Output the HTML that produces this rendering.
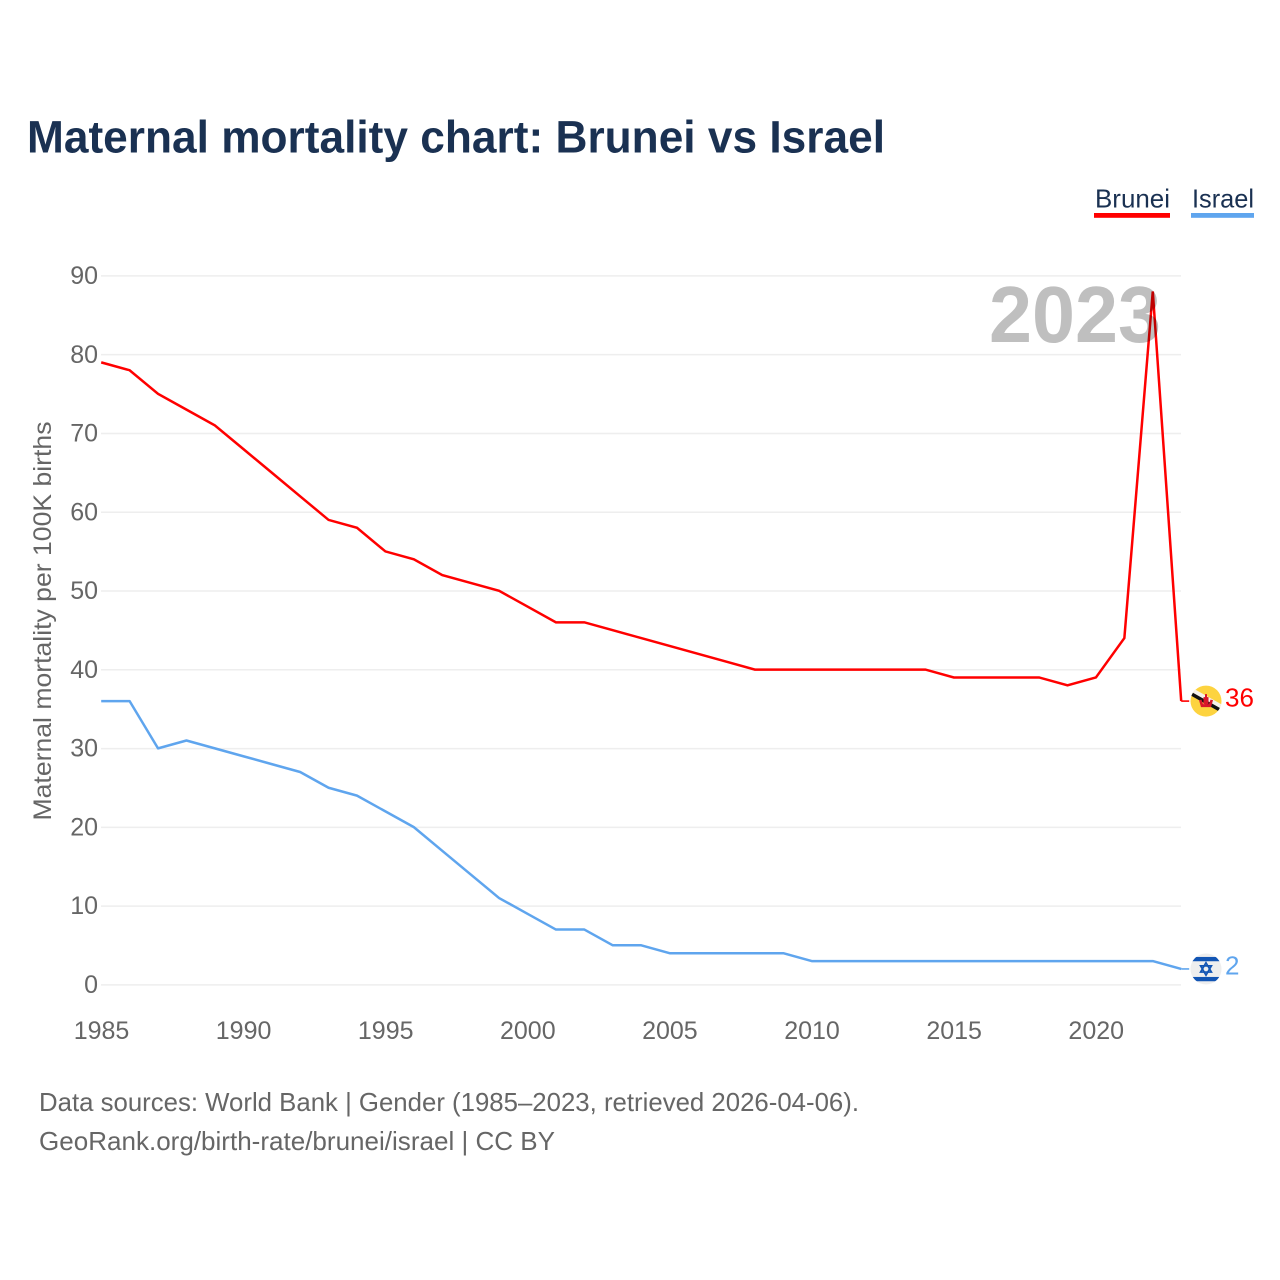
<!DOCTYPE html>
<html lang="en">
<head>
<meta charset="utf-8">
<title>Maternal mortality chart: Brunei vs Israel</title>
<style>
  html, body { margin: 0; padding: 0; background: #fff; }
  svg { display: block; font-family: "Liberation Sans", sans-serif; }
</style>
</head>
<body>
<svg id="chart" width="1280" height="1280" viewBox="0 0 1280 1280" xmlns="http://www.w3.org/2000/svg">
  <defs>
    <clipPath id="brunei-clip"><circle cx="0" cy="0" r="15.5"></circle></clipPath>
    <clipPath id="israel-clip"><circle cx="0" cy="0" r="15.5"></circle></clipPath>
  </defs>
  <rect width="1280" height="1280" fill="#fff"></rect>
  <text x="27" y="152.5" font-size="45" font-weight="700" fill="#1a3152" textLength="858" lengthAdjust="spacingAndGlyphs">Maternal mortality chart: Brunei vs Israel</text>

  <g>
    <g>
      <text x="1095" y="207.5" font-size="26" fill="#1a3152" textLength="75" lengthAdjust="spacingAndGlyphs">Brunei</text>
      <rect x="1094" y="213" width="76" height="4.8" fill="#ff0000"></rect>
    </g>
    <g>
      <text x="1192" y="207.5" font-size="26" fill="#1a3152" textLength="62" lengthAdjust="spacingAndGlyphs">Israel</text>
      <rect x="1191" y="213" width="63" height="4.8" fill="#5fa5ee"></rect>
    </g>
  </g>

  <g id="grid"></g>
  <g id="y-ticks"></g>
  <g id="x-ticks"></g>
  <text transform="translate(51,820.5) rotate(-90)" x="0" y="0" font-size="25" fill="#666" textLength="399" lengthAdjust="spacingAndGlyphs">Maternal mortality per 100K births</text>

  <g id="series"></g>
  <g id="end-labels"></g>

  <text x="989" y="342" font-size="80" font-weight="700" fill="#000" fill-opacity="0.25" textLength="172" lengthAdjust="spacingAndGlyphs">2023</text>

  <text x="39" y="1111" font-size="26" fill="#666" textLength="820" lengthAdjust="spacingAndGlyphs">Data sources: World Bank | Gender (1985–2023, retrieved 2026-04-06).</text>
  <text x="39" y="1150" font-size="26" fill="#666" textLength="516" lengthAdjust="spacingAndGlyphs">GeoRank.org/birth-rate/brunei/israel | CC BY</text>
</svg>

<script>
const years = [1985,1986,1987,1988,1989,1990,1991,1992,1993,1994,1995,1996,1997,1998,1999,2000,2001,2002,2003,2004,2005,2006,2007,2008,2009,2010,2011,2012,2013,2014,2015,2016,2017,2018,2019,2020,2021,2022,2023];
const bruneiValues = [79,78,75,73,71,68,65,62,59,58,55,54,52,51,50,48,46,46,45,44,43,42,41,40,40,40,40,40,40,40,39,39,39,39,38,39,44,88,36];
const israelValues = [36,36,30,31,30,29,28,27,25,24,22,20,17,14,11,9,7,7,5,5,4,4,4,4,4,3,3,3,3,3,3,3,3,3,3,3,3,3,2];
const yTickValues = [0,10,20,30,40,50,60,70,80,90];
const xTickValues = [1985,1990,1995,2000,2005,2010,2015,2020];

const NS = 'http://www.w3.org/2000/svg';
const xScale = function (year) { return 101.2 + (year - 1985) * (1080 / 38); };
const yScale = function (value) { return 984.7 - value * (709 / 90); };

function make(tag, attrs, parent) {
  const el = document.createElementNS(NS, tag);
  Object.keys(attrs).forEach(function (k) { el.setAttribute(k, attrs[k]); });
  parent.appendChild(el);
  return el;
}

const grid = document.getElementById('grid');
const yTicks = document.getElementById('y-ticks');
yTickValues.forEach(function (v) {
  const line = make('line', { x1: 101, x2: 1181, y1: yScale(v) + 0.2, y2: yScale(v) + 0.2, stroke: '#eeeeee', 'stroke-width': 1.5 }, grid);
  
  
  const label = make('text', { x: 98, y: yScale(v) + 8.3, 'text-anchor': 'end', 'font-size': 25, fill: '#666' }, yTicks);
  
  
  label.textContent = v;
});

const xTicks = document.getElementById('x-ticks');
xTickValues.forEach(function (y) {
  const label = make('text', { x: xScale(y) + 0.3, y: 1039, 'text-anchor': 'middle', 'font-size': 25, fill: '#666' }, xTicks);
  
  
  label.textContent = y;
});

function pathFor(values) {
  return values.map(function (v, i) {
    return (i ? 'L' : 'M') + xScale(years[i]).toFixed(2) + ' ' + yScale(v).toFixed(2);
  }).join(' ');
}

const series = document.getElementById('series');
const israelLine = make('path', { d: pathFor(israelValues), fill: 'none', stroke: '#5fa5ee', 'stroke-width': 2.5, 'stroke-linejoin': 'round' }, series);


const bruneiLine = make('path', { d: pathFor(bruneiValues), fill: 'none', stroke: '#ff0000', 'stroke-width': 2.5, 'stroke-linejoin': 'miter' }, series);



const endLabels = document.getElementById('end-labels');
const lastYear = years[years.length - 1];
const flagX = xScale(lastYear) + 24.8;

function drawEnd(values, color, name) {
  const last = values[values.length - 1];
  const py = yScale(last);
  const conn = make('line', { x1: xScale(lastYear), x2: xScale(lastYear) + 8, y1: py, y2: py, stroke: color, 'stroke-width': 1.6 }, endLabels);
  
  
  const value = make('text', { x: flagX + 19, y: py + 5.5, 'font-size': 26, fill: color }, endLabels);
  
  
  value.textContent = last;
  const flag = make('g', { transform: 'translate(' + flagX + ',' + py + ')', 'clip-path': 'url(#' + name + '-clip)' }, endLabels);
  
  
  return flag;
}

const bf = drawEnd(bruneiValues, '#ff0000', 'brunei');
make('circle', { r: 16, fill: '#fdd33f' }, bf);
make('polygon', { points: '-16,-14.5 -16,-8.5 16,9.5 16,3.5', fill: '#f6f2ea' }, bf);
make('polygon', { points: '-16,-10 -16,-6 16,12 16,8', fill: '#111' }, bf);
make('rect', { x: -1, y: -7, width: 2, height: 11, fill: '#d8152a' }, bf);
make('rect', { x: -2.5, y: -4, width: 5, height: 7, fill: '#d8152a' }, bf);
make('polygon', { points: '-7,-1 -4.5,-1.5 -3,3 3,3 4.5,-1.5 7,-1 5,6 -5,6', fill: '#d8152a' }, bf);

const isf = drawEnd(israelValues, '#5fa5ee', 'israel');
make('circle', { r: 16, fill: '#eeeeee' }, isf);
make('rect', { x: -16, y: -12, width: 32, height: 4.3, fill: '#1255b4' }, isf);
make('rect', { x: -16, y: 8, width: 32, height: 4.3, fill: '#1255b4' }, isf);
make('polygon', { points: '0,-6.2 5.4,3.1 -5.4,3.1', fill: 'none', stroke: '#1255b4', 'stroke-width': 1.7 }, isf);
make('polygon', { points: '0,6.2 5.4,-3.1 -5.4,-3.1', fill: 'none', stroke: '#1255b4', 'stroke-width': 1.7 }, isf);
</script>
</body>
</html>
